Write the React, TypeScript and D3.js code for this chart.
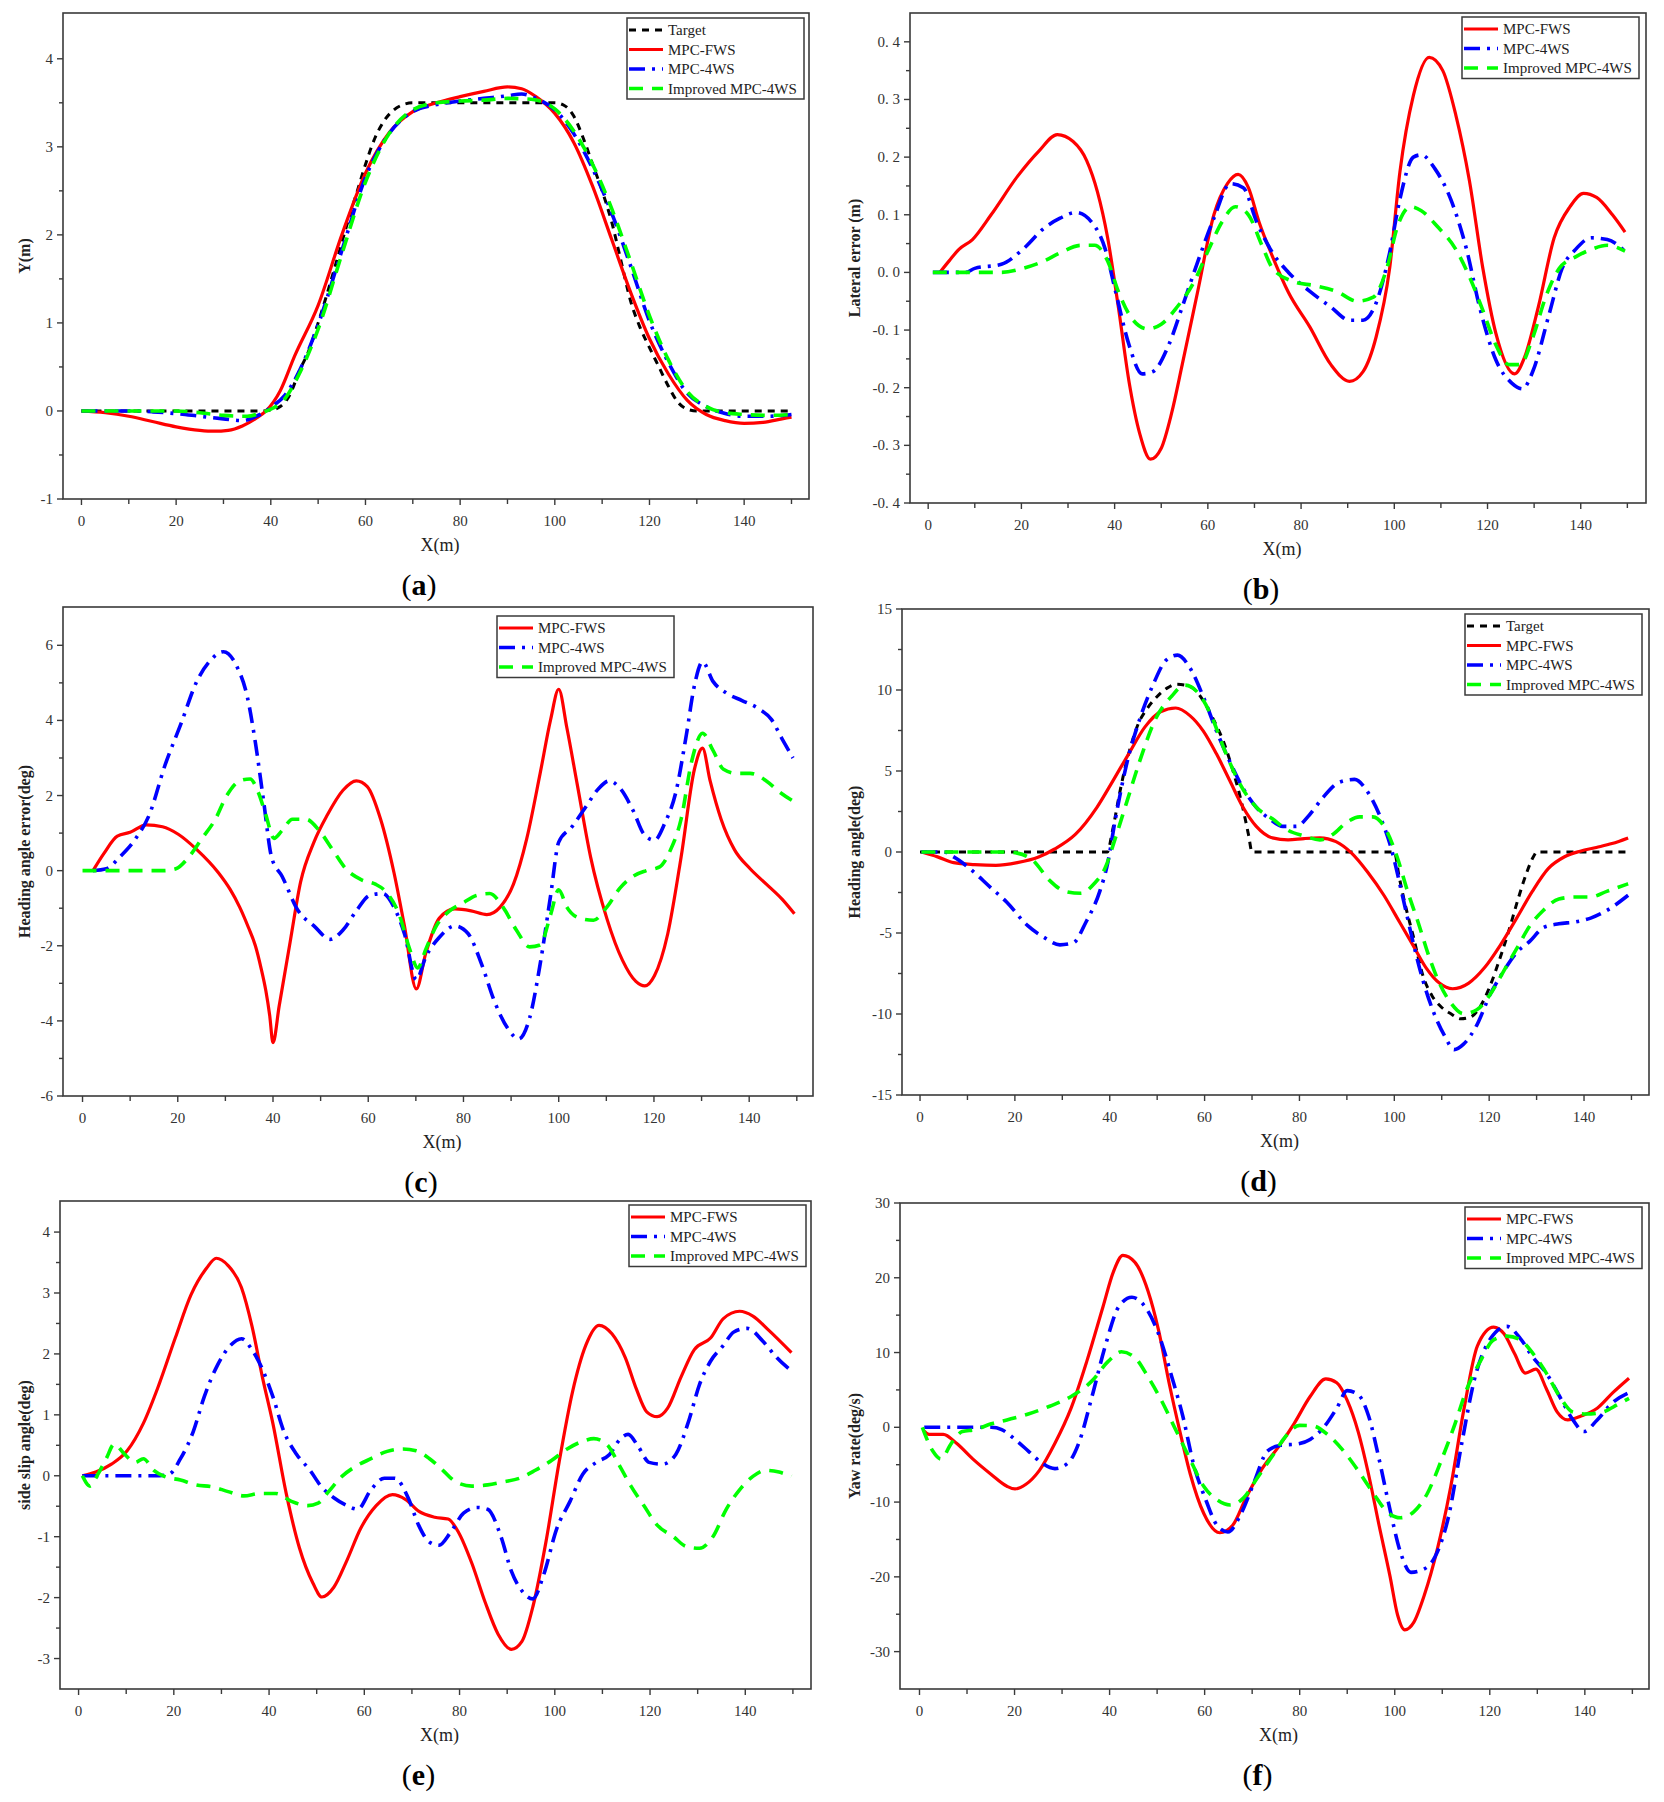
import React from 'react';
import * as d3 from 'd3';

type Pt = [number, number];

// ---------- data (x in m) ----------

// (a) trajectory Y(m)
const aTarget: Pt[] = [[0,0],[10,0],[20,0],[30,0],[38,0],[40,0.01],[42,0.05],[44,0.18],[46,0.45],[48,0.68],[50,1.0],[52,1.35],[54,1.72],[56,2.1],[58,2.45],[60,2.8],[62,3.1],[64,3.3],[66,3.42],[68,3.48],[70,3.5],[80,3.5],[90,3.5],[100,3.5],[102,3.47],[104,3.35],[106,3.1],[108,2.8],[110,2.5],[112,2.15],[114,1.7],[116,1.25],[118,0.95],[120,0.72],[122,0.5],[124,0.28],[126,0.1],[128,0.02],[130,0],[140,0],[150,0]];
const aFws: Pt[] = [[0,0],[5,-0.02],[10,-0.06],[15,-0.12],[20,-0.18],[25,-0.22],[28,-0.23],[31,-0.22],[34,-0.17],[37,-0.08],[39,0],[42,0.23],[45,0.62],[50,1.2],[55,2.0],[60,2.7],[65,3.16],[70,3.4],[75,3.5],[80,3.57],[85,3.63],[90,3.68],[93,3.66],[96,3.57],[100,3.38],[104,3.05],[108,2.55],[112,1.95],[116,1.35],[120,0.82],[124,0.42],[128,0.12],[132,-0.04],[136,-0.11],[140,-0.14],[144,-0.13],[148,-0.09],[150,-0.07]];
const aMpc4ws: Pt[] = [[0,0],[10,0],[15,-0.01],[20,-0.03],[25,-0.06],[30,-0.09],[34,-0.11],[37,-0.06],[40,0.04],[43,0.18],[46,0.45],[50,0.98],[55,1.82],[60,2.65],[65,3.15],[70,3.4],[75,3.48],[80,3.52],[85,3.55],[90,3.58],[93,3.6],[96,3.55],[100,3.42],[104,3.15],[108,2.75],[112,2.25],[116,1.65],[120,1.02],[124,0.55],[128,0.2],[132,0.05],[136,-0.03],[140,-0.06],[145,-0.06],[150,-0.04]];
const aImproved: Pt[] = [[0,0],[10,0],[20,0],[25,-0.02],[30,-0.05],[35,-0.06],[38,-0.02],[40,0.02],[43,0.14],[46,0.42],[50,0.93],[55,1.78],[60,2.6],[65,3.15],[70,3.42],[75,3.5],[80,3.52],[85,3.53],[90,3.55],[95,3.54],[100,3.43],[104,3.18],[108,2.8],[112,2.3],[116,1.7],[120,1.08],[124,0.58],[128,0.22],[132,0.05],[136,-0.02],[140,-0.04],[145,-0.05],[150,-0.04]];

// (b) lateral error (m)
const bFws: Pt[] = [[2.5,0],[4.5,0.02],[6.6,0.04],[9.5,0.057],[13.5,0.1],[19.2,0.167],[23.7,0.21],[27.7,0.239],[31.1,0.227],[34,0.194],[36.3,0.14],[38.5,0.06],[40.8,-0.06],[43.1,-0.19],[45.4,-0.28],[47.7,-0.324],[50,-0.305],[52.2,-0.245],[54.5,-0.16],[57.9,-0.03],[61.3,0.1],[64.2,0.154],[66.5,0.17],[68.7,0.147],[71,0.087],[73.9,0.027],[77.3,-0.035],[81.9,-0.095],[86.4,-0.16],[90.4,-0.189],[93.3,-0.172],[96.1,-0.112],[99,0.007],[101.2,0.174],[104.1,0.307],[107.5,0.373],[110.4,0.35],[113.2,0.273],[116.1,0.16],[119,0.007],[121.8,-0.106],[125.8,-0.176],[128,-0.146],[130.9,-0.06],[134.3,0.06],[137.7,0.114],[140.6,0.137],[143.4,0.13],[146.8,0.1],[149.5,0.07]];
const bMpc4ws: Pt[] = [[1,0],[8,0],[10,0.007],[15.7,0.014],[20.3,0.04],[24.9,0.077],[28.3,0.094],[31.7,0.104],[35.1,0.087],[38,0.04],[40.2,-0.033],[43.1,-0.126],[45.9,-0.176],[48.2,-0.172],[51.6,-0.126],[54.5,-0.06],[57.9,0.02],[61.3,0.094],[64.8,0.154],[67.6,0.147],[70.5,0.087],[73.9,0.034],[77.3,0],[81.9,-0.033],[86.4,-0.06],[90.4,-0.083],[93.3,-0.083],[96.1,-0.053],[99,0.034],[101.2,0.127],[104.1,0.2],[105.8,0.204],[108.7,0.18],[112.1,0.127],[115.5,0.04],[118.3,-0.06],[121.8,-0.152],[125.2,-0.192],[127.5,-0.202],[129.7,-0.172],[133.2,-0.073],[136,0.007],[138.9,0.04],[142.3,0.06],[145.7,0.057],[149.5,0.037]];
const bImproved: Pt[] = [[1,0],[10,0],[15.7,0],[20.3,0.007],[24.9,0.02],[28.3,0.034],[32.8,0.047],[35.7,0.047],[38.5,0.02],[40.8,-0.033],[43.7,-0.08],[47.1,-0.098],[50,-0.09],[53.4,-0.06],[56.8,-0.02],[60.2,0.04],[63,0.087],[65.9,0.114],[68.7,0.1],[71.6,0.047],[73.9,0.007],[78.4,-0.016],[83,-0.023],[87.6,-0.033],[92.1,-0.05],[95.5,-0.043],[98.4,0.007],[100.7,0.08],[103.5,0.114],[105.8,0.107],[109.2,0.08],[113.2,0.04],[116.1,-0.007],[119,-0.066],[121.8,-0.126],[124.6,-0.16],[127,-0.16],[129.7,-0.113],[132.6,-0.04],[135.4,0.007],[138.9,0.027],[142.3,0.04],[145.7,0.047],[149.5,0.037]];

// (c) heading angle error (deg)
const cFws: Pt[] = [[2.2,0],[4.5,0.46],[7.3,0.92],[10,1.02],[13.4,1.22],[16.8,1.17],[20.1,0.97],[24,0.56],[28.5,-0.05],[31,-0.5],[33,-0.97],[34.8,-1.5],[36.3,-2.0],[37.5,-2.6],[38.5,-3.2],[39.3,-3.85],[40,-4.58],[41.3,-3.6],[43.6,-1.9],[45.8,-0.3],[48.6,0.76],[51.4,1.48],[54.7,2.14],[57.5,2.39],[59.8,2.24],[62.6,1.37],[65.4,-0.05],[67.6,-1.47],[70.1,-3.15],[72.1,-2.19],[74.9,-1.27],[78.2,-1.02],[81.6,-1.07],[84.9,-1.17],[87.7,-0.97],[90.5,-0.36],[93.3,0.86],[96.1,2.59],[98.3,4.02],[100,4.83],[101.7,3.81],[103.9,2.29],[106.7,0.36],[110.1,-1.27],[113.4,-2.39],[116.2,-2.95],[118.1,-3.07],[120.1,-2.8],[122.9,-1.68],[125.7,0.36],[128.5,2.7],[130.2,3.26],[131.8,2.39],[134.1,1.37],[136.9,0.56],[140.2,0.05],[143.6,-0.36],[146.9,-0.76],[149.5,-1.15]];
const cMpc4ws: Pt[] = [[2.2,0],[5,0.05],[7.8,0.36],[11.2,0.86],[14,1.48],[17.3,2.8],[20.7,3.92],[24,5.04],[26.8,5.59],[29.6,5.83],[32.4,5.44],[34.6,4.63],[36.3,3.41],[38,1.88],[39.7,0.36],[41.9,-0.15],[45.3,-1.07],[48.6,-1.47],[52,-1.83],[54.7,-1.58],[57.5,-1.07],[60.3,-0.66],[63.1,-0.61],[65.4,-0.97],[67.6,-1.68],[70.1,-2.9],[72.1,-2.29],[74.9,-1.78],[78.2,-1.47],[81,-1.68],[83.8,-2.49],[86.6,-3.51],[89.4,-4.22],[91.6,-4.48],[93.9,-3.92],[96.1,-2.49],[98.3,-0.66],[100,0.76],[102.8,1.17],[105.6,1.68],[108.4,2.19],[110.6,2.39],[112.9,2.19],[115.7,1.58],[117.9,0.97],[120.1,0.81],[122.3,1.27],[124.6,2.09],[126.8,3.61],[128.5,4.93],[130.2,5.56],[132.4,5.04],[135.2,4.73],[138.5,4.53],[141.9,4.32],[144.7,4.02],[146.9,3.51],[149.2,3.0]];
const cImproved: Pt[] = [[0,0],[10,0],[17,0],[19.6,0.05],[22.3,0.36],[25.1,0.86],[27.9,1.37],[30.2,1.98],[33,2.39],[35.2,2.44],[36.9,2.09],[38.5,1.48],[40.2,0.86],[41.9,1.07],[44.1,1.37],[46.9,1.37],[49.7,1.07],[52.5,0.56],[55.3,0.05],[58.7,-0.25],[61.5,-0.36],[63.7,-0.56],[66.5,-1.17],[68.7,-2.09],[70.4,-2.59],[72.1,-2.09],[74.3,-1.47],[77.1,-1.07],[79.9,-0.86],[82.7,-0.66],[85.5,-0.61],[88.3,-0.97],[91.1,-1.58],[93.9,-2.03],[96.1,-1.98],[98.3,-1.17],[100,-0.51],[101.7,-0.97],[104.5,-1.27],[107.3,-1.32],[110.1,-0.97],[112.9,-0.46],[115.6,-0.15],[118.4,0],[121.2,0.1],[123.5,0.56],[125.7,1.37],[127.9,2.9],[130.2,3.66],[132.4,3.2],[134.6,2.7],[137.4,2.59],[140.2,2.59],[143.6,2.39],[146.4,2.09],[149.5,1.83]];

// (d) heading angle (deg)
const dTarget: Pt[] = [[0,0],[20,0],[39.5,0],[40.5,1.2],[42,3.5],[43,4.9],[44.5,6.6],[46,7.9],[48,8.9],[50,9.6],[52,10.1],[54,10.35],[56,10.3],[58,10.0],[60,9.2],[62,8.1],[64,6.8],[66,5.0],[68,2.8],[69.3,1.0],[70,0],[80,0],[90,0],[100,0],[101,-1.5],[102.5,-3.5],[104,-5.2],[106,-7.6],[108,-8.9],[110,-9.6],[112,-10.0],[114,-10.3],[116,-10.2],[118,-9.6],[120,-8.4],[122,-6.8],[124,-5.0],[126,-3.0],[128,-1.2],[129.5,-0.2],[130,0],[140,0],[150,0]];
const dFws: Pt[] = [[0.3,0],[3.7,-0.3],[7.1,-0.66],[11.5,-0.78],[16,-0.83],[20.5,-0.66],[25,-0.31],[28.3,0.17],[32.8,1.1],[37.3,2.76],[40.7,4.41],[44,6.06],[47.4,7.71],[50.7,8.66],[53.9,8.89],[56.9,8.42],[59.7,7.48],[62.5,6.06],[65.3,4.41],[68.1,2.76],[70.9,1.58],[74.3,0.87],[77.6,0.75],[81,0.83],[84.3,0.87],[87.7,0.64],[91,-0.07],[94.4,-1.25],[97.8,-2.67],[101.1,-4.32],[103.9,-5.73],[106.7,-7.15],[109.5,-8.09],[112.3,-8.44],[115.7,-8.09],[119,-7.15],[122.4,-5.73],[125.8,-4.08],[129.1,-2.43],[132.5,-1.01],[135.8,-0.31],[139.2,0.05],[142.6,0.28],[145.9,0.52],[149.3,0.87]];
const dMpc4ws: Pt[] = [[0.3,0],[5,0],[7.1,-0.3],[10.4,-1.0],[14.9,-2.2],[18.3,-3.1],[22.7,-4.55],[26.1,-5.26],[29.5,-5.73],[32.3,-5.61],[35,-4.32],[37.9,-2.43],[39.5,-0.78],[41.2,2.05],[43.5,5.35],[46.3,8.18],[49.1,10.3],[51.9,11.84],[54.3,12.15],[56.9,11.37],[59.7,9.6],[62.5,7.48],[65.3,5.59],[68.1,3.94],[70.9,2.76],[73.7,2.05],[76.5,1.58],[79.3,1.58],[82.1,2.29],[84.9,3.35],[88.3,4.29],[91.6,4.48],[94.4,3.7],[97.2,2.05],[99.4,0.17],[101.7,-2.67],[103.9,-5.5],[106.2,-8.09],[108.4,-9.98],[110.7,-11.4],[112.6,-12.2],[114.6,-11.86],[117.4,-10.68],[120.2,-8.8],[123,-7.38],[125.8,-6.2],[128.6,-5.5],[131.4,-4.67],[134.7,-4.43],[138.1,-4.32],[141.4,-4.08],[144.8,-3.61],[149.3,-2.67]];
const dImproved: Pt[] = [[0.3,0],[10,0],[18,0],[20.5,-0.07],[23.9,-0.54],[27.2,-1.72],[30.6,-2.43],[33.9,-2.55],[36.7,-1.96],[39,-1.01],[41.2,0.87],[43.5,3.0],[46.3,5.59],[49.6,8.18],[53,9.6],[55.8,10.3],[58.6,9.83],[61.4,8.42],[64.2,6.3],[67.5,4.17],[70.9,2.76],[74.3,2.05],[77.6,1.34],[81,0.99],[84.3,0.75],[87.1,1.1],[89.9,1.82],[92.7,2.17],[95.5,2.17],[98.3,1.34],[100.6,-0.31],[102.8,-2.43],[105,-4.32],[107.3,-6.44],[109.5,-8.09],[111.8,-9.27],[114.6,-9.98],[117.4,-9.74],[120.2,-8.8],[123,-7.38],[125.8,-5.97],[128.6,-4.55],[131.4,-3.61],[134.7,-2.9],[138.1,-2.78],[141.4,-2.78],[144.8,-2.43],[149.3,-1.96]];

// (e) side slip angle (deg)
const eFws: Pt[] = [[0.8,0],[3.6,0.06],[6.9,0.19],[10.2,0.41],[13.6,0.86],[16.9,1.5],[20.3,2.26],[23.6,2.97],[26.9,3.41],[28.9,3.57],[31.4,3.45],[34.2,3.09],[36.4,2.46],[38.6,1.62],[40.8,0.86],[43.6,-0.29],[46.4,-1.19],[49.2,-1.76],[51.1,-1.99],[53.6,-1.83],[56.4,-1.38],[59.2,-0.87],[62.5,-0.49],[65.9,-0.31],[68.7,-0.39],[71.4,-0.58],[74.8,-0.68],[77.6,-0.71],[79.8,-0.93],[82.6,-1.44],[85.4,-2.08],[88.1,-2.6],[90.9,-2.85],[93.1,-2.72],[95.4,-2.15],[98.2,-1.06],[100.9,0.22],[103.7,1.37],[106.5,2.14],[109.3,2.47],[112,2.33],[114.8,1.94],[117.1,1.43],[119.3,1.05],[121.5,0.97],[123.7,1.11],[126.5,1.62],[129.3,2.07],[132.7,2.26],[135.4,2.58],[138.8,2.7],[141.6,2.62],[144.9,2.39],[149.7,2.02]];
const eMpc4ws: Pt[] = [[0.8,0],[10,0],[17,0],[19.1,0.03],[21.4,0.28],[24.1,0.73],[26.4,1.3],[29.2,1.82],[31.9,2.14],[34.2,2.25],[36.4,2.07],[38.6,1.75],[40.8,1.3],[43.1,0.73],[45.8,0.35],[48.6,0.09],[50.9,-0.17],[53.6,-0.36],[56.4,-0.49],[58.6,-0.55],[61.4,-0.23],[64.2,-0.04],[66.4,-0.04],[69.2,-0.36],[71.4,-0.81],[73.7,-1.09],[75.7,-1.14],[78.1,-0.93],[80.9,-0.61],[83.7,-0.52],[85.9,-0.55],[88.7,-1.0],[90.9,-1.57],[93.1,-1.89],[95.4,-2.02],[97.6,-1.64],[100.4,-0.87],[103.2,-0.42],[105.9,0.03],[108.7,0.22],[111.5,0.35],[113.7,0.6],[115.4,0.68],[117.6,0.47],[119.8,0.22],[122.6,0.19],[125.4,0.35],[128.2,0.92],[130.4,1.5],[132.7,1.88],[135.4,2.14],[137.6,2.36],[140.4,2.42],[143.8,2.2],[146.6,1.94],[149.7,1.72]];
const eImproved: Pt[] = [[0.8,0],[2.4,-0.17],[4.1,0.03],[5.8,0.28],[7.5,0.52],[9.7,0.35],[11.9,0.22],[13.6,0.28],[15.8,0.09],[18,-0.01],[21.4,-0.07],[24.7,-0.15],[28,-0.18],[31.4,-0.26],[34.7,-0.33],[38.1,-0.29],[41.4,-0.29],[44.7,-0.42],[48.1,-0.49],[50.3,-0.45],[52.5,-0.26],[55.3,-0.01],[58.1,0.15],[61.4,0.28],[64.8,0.4],[68.1,0.44],[70.9,0.41],[73.7,0.28],[76.5,0.09],[79.2,-0.1],[82.6,-0.17],[85.9,-0.15],[89.2,-0.1],[92.6,-0.04],[95.9,0.09],[99.3,0.25],[102.6,0.44],[106,0.57],[108.2,0.61],[111,0.51],[113.7,0.15],[116,-0.17],[118.7,-0.49],[121.5,-0.81],[124.9,-1.0],[127.6,-1.16],[130.4,-1.19],[133.2,-1.0],[136,-0.55],[138.8,-0.23],[141.6,-0.01],[144.3,0.09],[147.1,0.06],[149.7,-0.01]];

// (f) yaw rate (deg/s)
const fFws: Pt[] = [[1,-0.5],[2,-0.94],[5,-0.94],[7.8,-2.14],[11.2,-4.23],[15.1,-6.31],[18.4,-7.88],[20.1,-8.24],[22.4,-7.62],[25.2,-5.79],[28.5,-2.14],[31.9,2.56],[35.2,8.82],[38.6,16.1],[40.8,20.8],[42.8,23.0],[45.3,22.1],[48.1,18.2],[50.3,13.0],[52.6,5.69],[54.8,-0.57],[57,-6.31],[59.8,-11.5],[63.2,-14.1],[65.9,-13.1],[68.7,-9.44],[72.1,-5.53],[75.5,-2.66],[78.8,0.47],[82.2,4.12],[85.5,6.47],[87.8,5.95],[90,3.6],[92.3,-0.57],[94.5,-6.31],[96.7,-13.1],[99,-19.9],[100.6,-25.1],[102.1,-27.1],[104,-26.1],[106.2,-22.5],[109,-16.2],[111.8,-7.88],[114.6,2.56],[117.4,10.9],[120.8,13.4],[123,12.5],[125.2,9.86],[127.5,7.25],[129.7,7.77],[131.9,5.16],[134.2,2.03],[136.4,0.99],[139.2,1.51],[142.6,2.56],[145.9,4.64],[149.3,6.57]];
const fMpc4ws: Pt[] = [[1,0],[8,0],[15.1,0],[17.3,-0.31],[20.1,-1.62],[22.9,-3.18],[25.7,-4.75],[28.5,-5.53],[31.3,-4.75],[33.5,-2.14],[36.3,4.12],[39.1,10.9],[41.9,16.1],[44.7,17.4],[47.5,16.1],[50.3,12.5],[53.1,6.73],[55.4,1.51],[57.6,-4.75],[60.4,-9.96],[62.6,-13.1],[64.9,-14.0],[67.7,-11.5],[70.4,-7.36],[73.2,-3.18],[76,-2.4],[79.4,-2.24],[82.2,-1.62],[85,-0.05],[87.8,2.56],[90,4.9],[92.3,4.38],[94.5,1.51],[96.7,-4.23],[99,-11.0],[101.2,-16.7],[103.4,-19.4],[105.7,-19.1],[108.5,-17.3],[111.3,-12.0],[114.1,-2.14],[116.9,6.73],[120.2,11.9],[123.6,13.5],[126.4,11.9],[129.1,9.34],[131.9,7.25],[134.7,4.12],[137.5,0.99],[139.8,-0.57],[142.6,0.99],[145.9,3.34],[149.3,4.64]];
const fImproved: Pt[] = [[0.6,0],[2.8,-3.18],[4.5,-4.23],[6.7,-2.14],[9,-0.57],[11.7,-0.31],[15.1,0.47],[18.4,0.99],[22.9,1.77],[27.4,2.82],[31.9,4.12],[36.3,6.21],[39.7,8.82],[42.5,10.1],[45.3,9.34],[48.1,6.73],[50.9,3.6],[53.7,-0.05],[56.5,-3.7],[59.8,-7.88],[62.6,-9.7],[65.4,-10.4],[68.2,-9.44],[71,-6.84],[74.4,-3.7],[77.2,-1.1],[80,0.26],[82.7,0.21],[86.1,-1.1],[88.9,-2.92],[92.3,-5.79],[95.6,-8.92],[98.4,-11.3],[101.2,-12.1],[104,-11.3],[106.8,-8.92],[109.6,-4.75],[112.4,-0.05],[115.2,5.16],[118,8.82],[120.8,11.7],[123.6,12.2],[126.4,11.7],[129.1,9.86],[131.9,7.25],[134.7,4.12],[137.5,2.03],[140.3,1.77],[143.7,2.03],[147,3.08],[149.3,3.86]];

// tick values
const xMajor = [0, 20, 40, 60, 80, 100, 120, 140];
const xMinor = [10, 30, 50, 70, 90, 110, 130, 150];
const aTicks = [-1, 0, 1, 2, 3, 4];
const bTicks = [-0.4, -0.3, -0.2, -0.1, 0, 0.1, 0.2, 0.3, 0.4];
const cTicks = [-6, -4, -2, 0, 2, 4, 6];
const dTicks = [-15, -10, -5, 0, 5, 10, 15];
const eTicks = [-3, -2, -1, 0, 1, 2, 3, 4];
const fTicks = [-30, -20, -10, 0, 10, 20, 30];

const legendNames: Record<string, string> = {
  target: 'Target',
  fws: 'MPC-FWS',
  mpc4ws: 'MPC-4WS',
  improved: 'Improved MPC-4WS',
};

const lineStyle: Record<string, { color: string; width: number; dash?: string }> = {
  target: { color: '#000000', width: 3, dash: '7 6' },
  fws: { color: '#ff0000', width: 3.2 },
  mpc4ws: { color: '#0000ff', width: 3.6, dash: '16 7 3 7' },
  improved: { color: '#00ff00', width: 3.6, dash: '14 9' },
};

interface Panel {
  id: string;
  frame: [number, number, number, number]; // left, top, right, bottom
  xDomain: [number, number];
  yDomain: [number, number];
  yTicks: number[];
  yMinorStep: number;
  fmt: (v: number) => string;
  yTitle: string;
  legend: [number, number];
  series: [string, Pt[]][];
}

const plain = (v: number) => (v < 0 ? '-' + Math.abs(v) : String(v));
const spaced = (v: number) => {
  const s = Math.abs(v).toFixed(1).replace('.', '. ');
  return v < -1e-9 ? '-' + s : s;
};

const panels: Panel[] = [
  { id: 'a', frame: [63, 13, 809, 499], xDomain: [-3.9, 153.7], yDomain: [-1, 4.52], yTicks: aTicks, yMinorStep: 0.5, fmt: plain, yTitle: 'Y(m)', legend: [627, 18],
    series: [['target', aTarget], ['fws', aFws], ['mpc4ws', aMpc4ws], ['improved', aImproved]] },
  { id: 'b', frame: [910, 13, 1646, 503], xDomain: [-3.9, 154], yDomain: [-0.4, 0.45], yTicks: bTicks, yMinorStep: 0.05, fmt: spaced, yTitle: 'Lateral error (m)', legend: [1462, 17],
    series: [['fws', bFws], ['mpc4ws', bMpc4ws], ['improved', bImproved]] },
  { id: 'c', frame: [63, 607, 813, 1096], xDomain: [-4.1, 153.4], yDomain: [-6, 7.02], yTicks: cTicks, yMinorStep: 1, fmt: plain, yTitle: 'Heading angle error(deg)', legend: [497, 616],
    series: [['fws', cFws], ['mpc4ws', cMpc4ws], ['improved', cImproved]] },
  { id: 'd', frame: [902, 609, 1649, 1095], xDomain: [-3.8, 153.7], yDomain: [-15, 15], yTicks: dTicks, yMinorStep: 2.5, fmt: plain, yTitle: 'Heading angle(deg)', legend: [1465, 614],
    series: [['target', dTarget], ['fws', dFws], ['mpc4ws', dMpc4ws], ['improved', dImproved]] },
  { id: 'e', frame: [60, 1201, 811, 1689], xDomain: [-3.9, 153.8], yDomain: [-3.5, 4.51], yTicks: eTicks, yMinorStep: 0.5, fmt: plain, yTitle: 'side slip angle(deg)', legend: [629, 1205],
    series: [['fws', eFws], ['mpc4ws', eMpc4ws], ['improved', eImproved]] },
  { id: 'f', frame: [900, 1203, 1649, 1689], xDomain: [-4.1, 153.5], yDomain: [-35, 30], yTicks: fTicks, yMinorStep: 5, fmt: plain, yTitle: 'Yaw rate(deg/s)', legend: [1465, 1207],
    series: [['fws', fFws], ['mpc4ws', fMpc4ws], ['improved', fImproved]] },
];

const FONT = '"Liberation Serif", "Times New Roman", serif';
const AXIS = '#3a3a3a';

const ChartPanel: React.FC<{ p: Panel }> = ({ p }) => {
  const [l, t, r, b] = p.frame;
  const x = d3.scaleLinear().domain(p.xDomain).range([l, r]);
  const y = d3.scaleLinear().domain(p.yDomain).range([b, t]);
  const line = d3.line<Pt>().x((d) => x(d[0])).y((d) => y(d[1])).curve(d3.curveMonotoneX);

  // minor y ticks half way between majors
  const yMinor: number[] = [];
  for (let i = 0; i < p.yTicks.length; i++) {
    const v = p.yTicks[i] + p.yMinorStep;
    const w = p.yTicks[i] - p.yMinorStep;
    [v, w].forEach((m) => {
      if (!p.yTicks.some((k) => Math.abs(k - m) < 1e-9) && !yMinor.some((k) => Math.abs(k - m) < 1e-9)) {
        const py = y(m);
        if (py > t + 4 && py < b - 4) yMinor.push(m);
      }
    });
  }

  const cx = (l + r) / 2;
  const colLeft = l < 400;
  const titleX = colLeft ? 24 : 854;
  const [lx, ly] = p.legend;
  const rowH = 19.5;
  const legW = 177;
  const legH = p.series.length * rowH + 3;

  return (
    <g>
      <defs>
        <clipPath id={`clip-${p.id}`}>
          <rect x={l} y={t} width={r - l} height={b - t} />
        </clipPath>
      </defs>
      <g clipPath={`url(#clip-${p.id})`}>
        {p.series.map(([k, data]) => (
          <path key={k} d={line(data) || ''} fill="none" stroke={lineStyle[k].color}
            strokeWidth={lineStyle[k].width} strokeDasharray={lineStyle[k].dash}
            strokeLinejoin="round" />
        ))}
      </g>
      <rect x={l} y={t} width={r - l} height={b - t} fill="none" stroke={AXIS} strokeWidth={1.6} />
      {/* x axis */}
      {xMajor.map((v) => (
        <g key={'xm' + v}>
          <line x1={x(v)} x2={x(v)} y1={b} y2={b + 6} stroke={AXIS} strokeWidth={1.4} />
          <text x={x(v)} y={b + 27} fontSize={15} textAnchor="middle" fill="#333" fontFamily={FONT}>{v}</text>
        </g>
      ))}
      {xMinor.map((v) => (
        <line key={'xn' + v} x1={x(v)} x2={x(v)} y1={b} y2={b + 5} stroke={AXIS} strokeWidth={1.4} />
      ))}
      {/* y axis */}
      {p.yTicks.map((v) => (
        <g key={'ym' + v}>
          <line x1={l - 6} x2={l} y1={y(v)} y2={y(v)} stroke={AXIS} strokeWidth={1.4} />
          <text x={l - 10} y={y(v) + 5} fontSize={15} textAnchor="end" fill="#333" fontFamily={FONT}>{p.fmt(v)}</text>
        </g>
      ))}
      {yMinor.map((v) => (
        <line key={'yn' + v} x1={l - 4} x2={l} y1={y(v)} y2={y(v)} stroke={AXIS} strokeWidth={1.4} />
      ))}
      <text x={cx + 4} y={b + 52} fontSize={18} textAnchor="middle" fill="#222" fontFamily={FONT}>X(m)</text>
      <text transform={`translate(${titleX},${(t + b) / 2}) rotate(-90)`} dy="0.35em" fontSize={16}
        fontWeight="bold" textAnchor="middle" fill="#222" fontFamily={FONT}>{p.yTitle}</text>
      <text x={cx - 17} y={b + 96} fontSize={30} textAnchor="middle" fill="#000" fontFamily={FONT}>
        (<tspan fontWeight="bold">{p.id}</tspan>)
      </text>
      {/* legend */}
      <rect x={lx} y={ly} width={legW} height={legH} fill="#fff" stroke={AXIS} strokeWidth={1.5} />
      {p.series.map(([k], i) => {
        const yy = ly + 12 + i * rowH;
        return (
          <g key={'lg' + k}>
            <line x1={lx + 2} x2={lx + 36} y1={yy} y2={yy} stroke={lineStyle[k].color}
              strokeWidth={lineStyle[k].width} strokeDasharray={lineStyle[k].dash} />
            <text x={lx + 41} y={yy + 5} fontSize={15} fill="#222" fontFamily={FONT}>{legendNames[k]}</text>
          </g>
        );
      })}
    </g>
  );
};

const App: React.FC = () => (
  <svg width={1664} height={1802} style={{ position: 'absolute', left: 0, top: 0, background: '#fff' }}>
    <rect width={1664} height={1802} fill="#fff" />
    {panels.map((p) => (
      <ChartPanel key={p.id} p={p} />
    ))}
  </svg>
);

export default App;
